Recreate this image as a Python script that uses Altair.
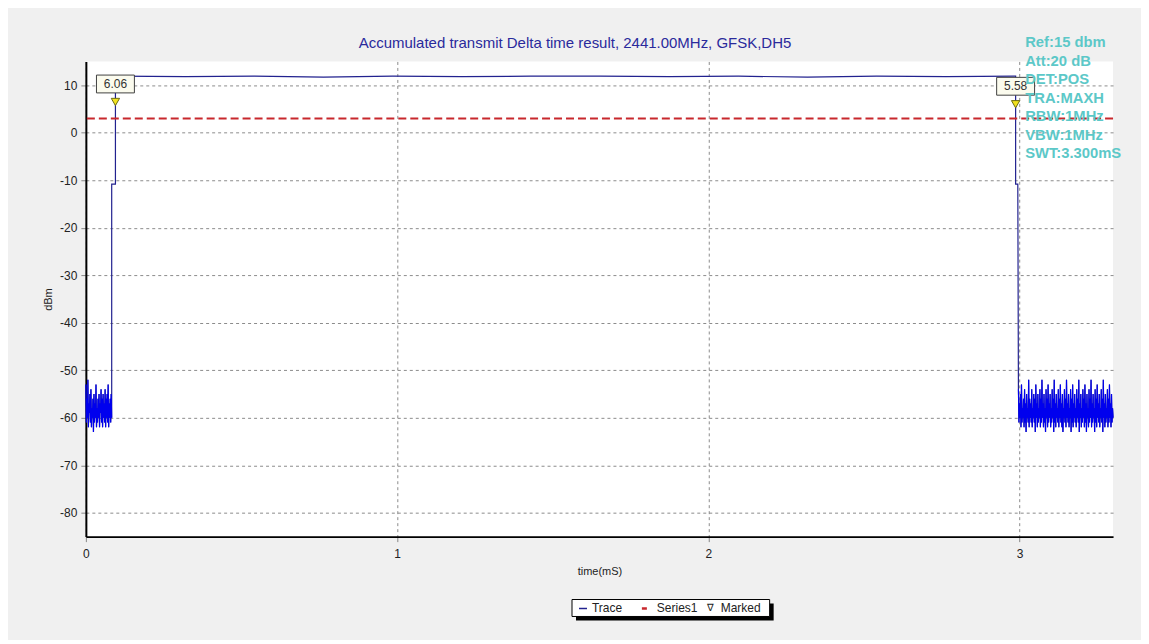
import altair as alt
import pandas as pd
import numpy as np

# ---------------- data ----------------
title_text = "Accumulated transmit Delta time result, 2441.00MHz, GFSK,DH5"
info_lines = ["Ref:15 dbm", "Att:20 dB", "DET:POS", "TRA:MAXH", "RBW:1MHz", "VBW:1MHz", "SWT:3.300mS"]
x_ticks = [0, 1, 2, 3]
y_ticks = [-80, -70, -60, -50, -40, -30, -20, -10, 0, 10]
x_domain = [0, 3.3]
y_domain = [-85, 15]
threshold = [3.0]

left_noise = [-53, -61, -56, -60, -52, -62, -57, -59, -55, -61, -54, -62, -58, -60, -56, -63,
              -55, -61, -57, -60, -53, -62, -58, -61, -56, -60, -55, -62, -57, -59, -54, -61,
              -56, -62, -55, -60, -57, -61, -54, -62, -56, -60, -55, -61, -53, -62, -57, -60,
              -56, -61, -55, -60]
left_t_range = [0.0, 0.083]

rise_t = [0.083, 0.095, 0.095]
rise_v = [-10.8, -10.8, 11.9]

top_v = [11.9, 11.8, 11.9, 11.7, 11.9, 11.8, 11.9, 11.9, 11.8, 11.9, 11.7, 11.9, 11.8, 11.9]
top_t_range = [0.097, 2.985]

fall_t = [2.987, 2.987, 2.994]
fall_v = [11.9, -10.8, -10.8]

right_noise = [-54, -61, -57, -60, -55, -62, -53, -61, -58, -60, -56, -62, -54, -61, -57, -63, -55, -60, -58, -61,
               -52, -62, -56, -60, -57, -61, -54, -62, -58, -60, -55, -61, -56, -63, -53, -60, -57, -62, -55, -61,
               -58, -60, -54, -62, -56, -61, -52, -60, -57, -62, -55, -61, -58, -63, -54, -60, -56, -62, -53, -61,
               -57, -60, -55, -62, -58, -61, -54, -60, -56, -63, -52, -61, -57, -62, -55, -60, -58, -61, -54, -62,
               -56, -60, -53, -61, -57, -62, -55, -63, -58, -60, -54, -61, -56, -62, -52, -60, -57, -61, -55, -62,
               -58, -60, -54, -63, -56, -61, -53, -62, -57, -60, -55, -61, -58, -62, -54, -60, -56, -61, -52, -63,
               -57, -60, -55, -62, -58, -61, -54, -60, -56, -62, -53, -61, -57, -63, -55, -60, -58, -62, -54, -61,
               -56, -60, -52, -62, -57, -61, -55, -60, -58, -63, -54, -61, -56, -62, -53, -60, -57, -61, -55, -62,
               -58, -60, -54, -61, -56, -63, -52, -60, -57, -62, -55, -61, -58, -60, -54, -62, -56, -61, -53, -60,
               -57, -62, -55, -61, -58, -60]
right_t_range = [2.996, 3.3]

marker_t = [0.095, 2.987]
marker_v = [6.06, 5.58]
marker_labels = ["6.06", "5.58"]

legend_labels = ["Trace", "Series1", "Marked"]

# ---------------- build tables ----------------
segs = []
segs.append(pd.DataFrame({"t": np.linspace(left_t_range[0], left_t_range[1], len(left_noise)),
                          "v": left_noise, "seg": "noise"}))
segs.append(pd.DataFrame({"t": rise_t, "v": rise_v, "seg": "edge"}))
segs.append(pd.DataFrame({"t": np.linspace(top_t_range[0], top_t_range[1], len(top_v)),
                          "v": top_v, "seg": "top"}))
segs.append(pd.DataFrame({"t": fall_t, "v": fall_v, "seg": "edge"}))
segs.append(pd.DataFrame({"t": np.linspace(right_t_range[0], right_t_range[1], len(right_noise)),
                          "v": right_noise, "seg": "noise"}))
trace = pd.concat(segs, ignore_index=True)
trace["i"] = np.arange(len(trace))

left_df = trace.iloc[:len(left_noise)].copy()
right_df = trace.iloc[-len(right_noise):].copy()

markers = pd.DataFrame({"t": marker_t, "v": marker_v, "label": marker_labels})
thr = pd.DataFrame({"v": threshold})
dummy = pd.DataFrame({"a": [0]})

xs = alt.Scale(domain=x_domain, nice=False, zero=False)
ys = alt.Scale(domain=y_domain, nice=False, zero=False)

GRID = "#8c8c8c"

x_axis = alt.Axis(values=x_ticks, labelExpr="'' + datum.value", grid=True, gridColor=GRID,
                  gridDash=[3, 3], gridWidth=1, domainColor="black", domainWidth=2,
                  tickColor="#888888", tickSize=5, labelFontSize=12, labelColor="#222222",
                  labelPadding=7, labelFlush=False,
                  title="time(mS)", titleFontSize=11, titleFontWeight="normal",
                  titleColor="#222222", titlePadding=6)
y_axis = alt.Axis(values=y_ticks, labelExpr="'' + datum.value", grid=True, gridColor=GRID,
                  gridDash=[3, 3], gridWidth=1, domainColor="black", domainWidth=2,
                  tickColor="#888888", tickSize=5, labelFontSize=12, labelColor="#222222",
                  labelPadding=4, labelFlush=False,
                  title="dBm", titleFontSize=11, titleFontWeight="normal",
                  titleColor="#222222", titlePadding=6)

X = alt.X("t:Q", scale=xs, axis=x_axis, title="time(mS)")
Y = alt.Y("v:Q", scale=ys, axis=y_axis, title="dBm")

trace_layer = alt.Chart(trace).mark_line(color="#22228f", strokeWidth=1.2, interpolate="linear").encode(
    x=X, y=Y, order="i:Q")

noise_l = alt.Chart(left_df).mark_line(color="#0000ee", strokeWidth=1.1).encode(x=X, y=Y, order="i:Q")
noise_r = alt.Chart(right_df).mark_line(color="#0000ee", strokeWidth=1.1).encode(x=X, y=Y, order="i:Q")

thr_layer = alt.Chart(thr).mark_rule(color="#c8282d", strokeWidth=2, strokeDash=[8, 4]).encode(y=Y)

tri = alt.Chart(markers).mark_point(shape="triangle-down", filled=True, fill="#f2e21e",
                                    stroke="#6a6a10", strokeWidth=1, size=70, opacity=1,
                                    yOffset=-2).encode(x=X, y=Y)

box = alt.Chart(markers).mark_point(shape="M -1 -0.47 L 1 -0.47 L 1 0.47 L -1 0.47 Z",
                                    filled=True, fill="#fbfbee", stroke="#404040", strokeWidth=1,
                                    size=1444, opacity=1, yOffset=-20).encode(x=X, y=Y)

box_text = alt.Chart(markers).mark_text(fontSize=12, color="#333333", yOffset=-20,
                                        align="center", baseline="middle").encode(
    x=X, y=Y, text="label:N")

title_layer = alt.Chart(dummy).mark_text(fontSize=15, color="#2a2a9c", align="center",
                                         baseline="middle").encode(
    x=alt.value(490), y=alt.value(-18), text=alt.value(title_text))

info_layer = alt.Chart(dummy).mark_text(fontSize=14.8, fontWeight="bold", color="#5cc8c8",
                                        align="left", baseline="top", lineHeight=18.5,
                                        lineBreak="\n").encode(
    x=alt.value(941), y=alt.value(-26), text=alt.value("\n".join(info_lines)))

# legend (drawn below the plot)
leg_shadow = alt.Chart(dummy).mark_rect(color="black").encode(
    x=alt.value(491), x2=alt.value(689), y=alt.value(543), y2=alt.value(560))
leg_box = alt.Chart(dummy).mark_rect(fill="white", stroke="black", strokeWidth=1).encode(
    x=alt.value(487), x2=alt.value(685), y=alt.value(539), y2=alt.value(556))
leg_line1 = alt.Chart(dummy).mark_rule(color="#22228f", strokeWidth=1.5).encode(
    x=alt.value(494), x2=alt.value(502), y=alt.value(548))
leg_line2 = alt.Chart(dummy).mark_rule(color="#c8282d", strokeWidth=2.5).encode(
    x=alt.value(557), x2=alt.value(562), y=alt.value(548))
leg_tri = alt.Chart(dummy).mark_text(fontSize=10, color="#222222", align="center",
                                     baseline="middle").encode(
    x=alt.value(626), y=alt.value(548), text=alt.value("∇"))
leg_t1 = alt.Chart(dummy).mark_text(fontSize=12, color="#222222", align="left", baseline="middle").encode(
    x=alt.value(507), y=alt.value(548), text=alt.value(legend_labels[0]))
leg_t2 = alt.Chart(dummy).mark_text(fontSize=12, color="#222222", align="left", baseline="middle").encode(
    x=alt.value(572), y=alt.value(548), text=alt.value(legend_labels[1]))
leg_t3 = alt.Chart(dummy).mark_text(fontSize=12, color="#222222", align="left", baseline="middle").encode(
    x=alt.value(636), y=alt.value(548), text=alt.value(legend_labels[2]))

chart = alt.layer(
    trace_layer, noise_l, noise_r, thr_layer, tri, box, box_text,
    title_layer, info_layer,
    leg_shadow, leg_box, leg_line1, leg_line2, leg_tri, leg_t1, leg_t2, leg_t3,
).properties(
    width=1029, height=476,
    autosize=alt.AutoSizeParams(type="none"),
    padding={"left": 78, "top": 53, "right": 28, "bottom": 103},
).configure(
    background="#f0f0f0", font="Liberation Sans"
).configure_view(
    strokeWidth=0, fill="white"
)

chart.save("out.html", embed_options={"renderer": "svg", "actions": False})
